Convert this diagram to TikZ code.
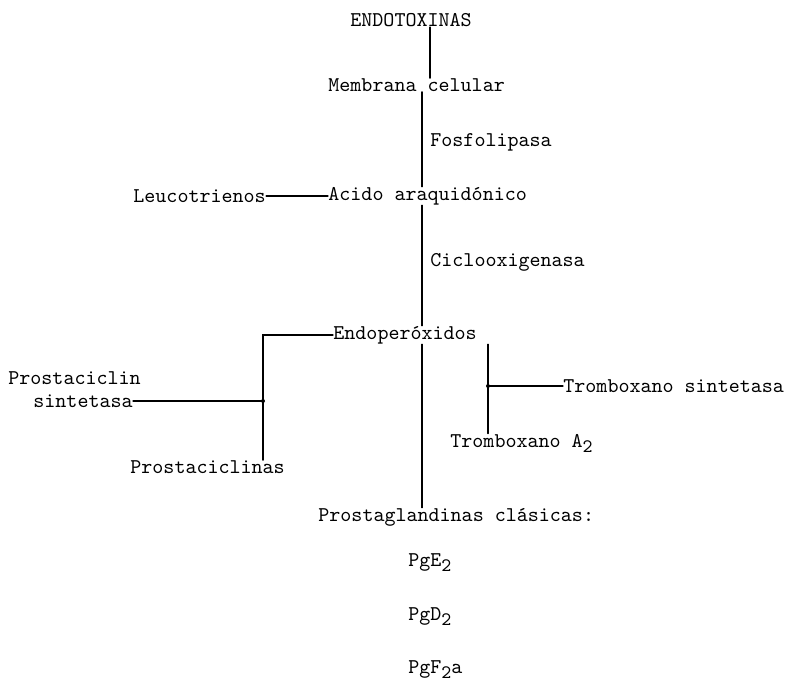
\documentclass[tikz,border=0pt]{standalone}
\usepackage{fontspec}
\newcommand{\lowtwo}{\raisebox{-0.55ex}{\fontsize{9.5}{10}\selectfont 2}}
\begin{document}
\begin{tikzpicture}
% Typed chart of the arachidonic acid cascade
\def\pxsz{0.5pt}
\providecommand{\chartLineWidth}{0.6pt}
\providecommand{\chartFont}{\fontsize{10.5}{12}\selectfont\ttfamily}
\begin{scope}[x=\pxsz, y=-\pxsz, line cap=round,
  lbl/.style={inner sep=0pt, anchor=west, font=\chartFont},
  conn/.style={draw=black, line width=\chartLineWidth}]
  % Page frame
  \useasboundingbox (0,0) rectangle (793,692);
  % Labels
  \node[lbl] (endotox) at (350,20) {ENDOTOXINAS};
  \node[lbl] (mem) at (328,85) {Membrana celular};
  \node[lbl] (fosfo) at (430,142) {Fosfolipasa};
  \node[lbl] (leuco) at (133,196) {Leucotrienos};
  \node[lbl] (acido) at (328,196) {Acido araquidónico};
  \node[lbl] (ciclo) at (430,262) {Ciclooxigenasa};
  \node[lbl] (endo) at (333,335) {Endoperóxidos};
  \node[lbl] (psinta) at (8,378) {Prostaciclin};
  \node[lbl] (psintb) at (33,401) {sintetasa};
  \node[lbl] (prostac) at (130,467) {Prostaciclinas};
  \node[lbl] (trsint) at (563,386) {Tromboxano sintetasa};
  \node[lbl] (trA) at (450,443) {Tromboxano A\lowtwo};
  \node[lbl] (pgcl) at (318,517) {Prostaglandinas clásicas:};
  \node[lbl] (pge) at (408,563) {PgE\lowtwo};
  \node[lbl] (pgd) at (408,617) {PgD\lowtwo};
  \node[lbl] (pgf) at (408,670) {PgF\lowtwo a};
  % Junction points and line columns
  \coordinate (vA) at (430,0);
  \coordinate (vB) at (422,0);
  \coordinate (jl) at (263,401);
  \coordinate (jr) at (488,386);
  % Main stem
  \draw[conn] (vA |- endotox.south) -- (vA |- mem.north);
  \draw[conn] (vB |- mem.south) -- (vB |- acido.north);
  \draw[conn] (vB |- acido.south) -- (vB |- endo.north);
  \draw[conn] (vB |- endo.south) -- (vB |- pgcl.north);
  \draw[conn] (leuco.east) -- (acido.west);
  % Left branch
  \draw[conn] (endo.west) -| (jl |- prostac.north);
  \draw[conn] (psintb.east) -- (jl);
  \fill (jl) circle (2);
  % Right branch
  \draw[conn] (jr |- endo.south) -- (jr |- trA.north);
  \draw[conn] (trsint.west) -- (jr);
  \fill (jr) circle (2);
\end{scope}
\end{tikzpicture}
\end{document}
